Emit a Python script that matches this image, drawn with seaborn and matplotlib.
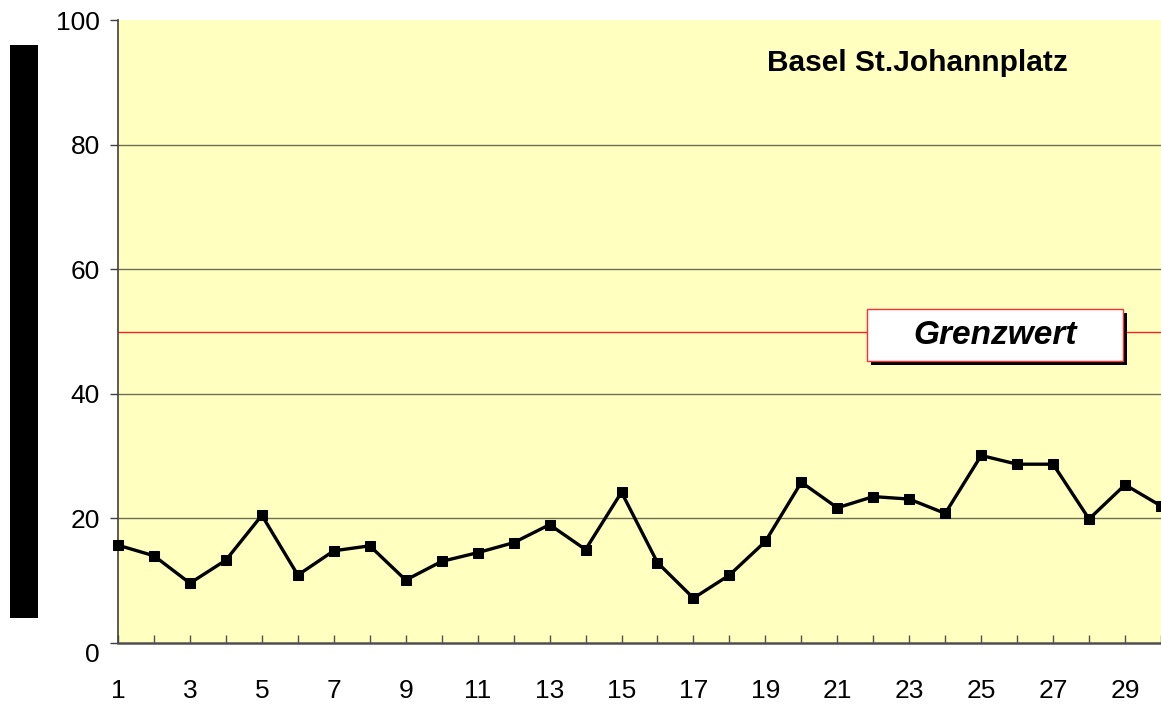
import matplotlib
matplotlib.use("Agg")
import matplotlib.pyplot as plt
import matplotlib.transforms as mtransforms
import seaborn as sns
import pandas as pd
from matplotlib.patches import Rectangle
from matplotlib.ticker import FixedLocator

days = list(range(1, 31))
values = [15.7, 14.0, 9.6, 13.3, 20.5, 10.9, 14.8, 15.6, 10.1, 13.1,
          14.5, 16.1, 19.0, 15.0, 24.2, 12.9, 7.2, 10.9, 16.3, 25.8,
          21.7, 23.5, 23.1, 20.8, 30.1, 28.7, 28.7, 19.9, 25.4, 22.0]
limit_value = 50
title = "Basel St.Johannplatz"
limit_label = "Grenzwert"
y_ticks = [0, 20, 40, 60, 80, 100]
x_labels = list(range(1, 30, 2))

df = pd.DataFrame({"Tag": days, "Wert": values})

sns.set_theme(style="white")
plt.rcParams['font.family'] = ['Liberation Sans', 'DejaVu Sans']

fig = plt.figure(figsize=(11.61, 7.05), dpi=100)
ax = fig.add_axes([118/1161, 62/705, 1 - 118/1161, (643-20)/705])
ax.set_facecolor("#FFFFC0")

for yv in y_ticks[1:-1]:
    ax.axhline(yv, color="#6e6e55", lw=1.0, zorder=1)
ax.axhline(limit_value, color="#ff2020", lw=1.0, zorder=1)

sns.lineplot(data=df, x="Tag", y="Wert", ax=ax, color="black", lw=2.4,
             marker="s", markersize=7.5, markeredgecolor="black", zorder=3,
             clip_on=False)

ax.set_xlim(1, 30)
ax.set_ylim(0, 100)
ax.set_yticks(y_ticks)
ax.xaxis.set_major_locator(FixedLocator(x_labels))
ax.xaxis.set_minor_locator(FixedLocator(days))
ax.set_xlabel("")
ax.set_ylabel("")

for s in ["top", "right"]:
    ax.spines[s].set_visible(False)
ax.spines["left"].set_color("#404040")
ax.spines["left"].set_linewidth(1.2)
ax.spines["bottom"].set_color("#505050")
ax.spines["bottom"].set_linewidth(1.8)

ax.tick_params(axis="x", which="both", direction="in", length=6, width=1,
               color="#505050", labelsize=19, labelcolor="black", pad=26,
               bottom=True)
ax.tick_params(axis="y", direction="out", length=6, width=1, color="#404040",
               labelsize=19, labelcolor="black", pad=7, left=True)

# the "0" label sits a little below its tick in the reference
fig.canvas.draw()
zero_lbl = ax.yaxis.get_majorticklabels()[0]
zero_lbl.set_transform(zero_lbl.get_transform() +
                       mtransforms.ScaledTranslation(0, -10/100, fig.dpi_scale_trans))

ax.text(0.766, 0.931, title, transform=ax.transAxes, ha="center", va="center",
        fontsize=21.5, fontweight="bold", color="black")

# Grenzwert box with shadow
bx0, bx1 = 0.718, 0.9636
by0, by1 = 0.4526, 0.536
ax.add_patch(Rectangle((bx0 + 0.004, by0 - 0.007), bx1 - bx0, by1 - by0,
                       transform=ax.transAxes, facecolor="black",
                       edgecolor="none", zorder=4))
ax.add_patch(Rectangle((bx0, by0), bx1 - bx0, by1 - by0,
                       transform=ax.transAxes, facecolor="white",
                       edgecolor="#ff3030", lw=1.0, zorder=5))
ax.text((bx0 + bx1) / 2, 0.494, limit_label, transform=ax.transAxes,
        ha="center", va="center", fontsize=24, fontweight="bold",
        fontstyle="italic", color="black", zorder=6)

# black bar on the left (axis title placeholder)
fig.patches.append(Rectangle((10/1161, 87/705), 28/1161, 573/705,
                             transform=fig.transFigure, facecolor="black",
                             edgecolor="none"))

fig.savefig("out.png", dpi=100, facecolor="white")
